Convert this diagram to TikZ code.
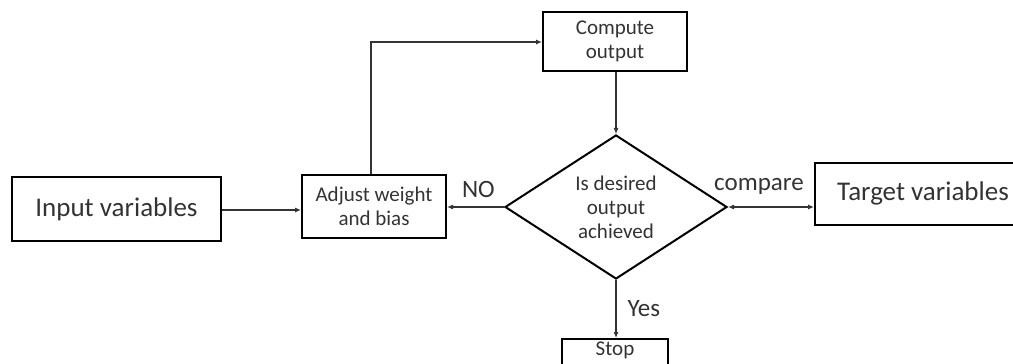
\documentclass[tikz,border=0pt]{standalone}
\usepackage{fontspec}
\setmainfont{Carlito}
\usetikzlibrary{shapes.geometric,arrows.meta}
\definecolor{txt}{HTML}{333333}
\tikzset{
  box/.style={draw=black, line width=2pt, rectangle, inner sep=0pt, text=txt, align=center},
  dia/.style={draw=black, line width=2pt, diamond, inner sep=0pt, text=txt, align=center},
  conn/.style={draw=black!80, line width=1.1pt, -{Latex[length=6pt,width=5pt]}},
  big/.style={font=\fontsize{27}{30}\selectfont},
  small/.style={font=\fontsize{21}{24}\selectfont},
  lbl/.style={text=txt, font=\fontsize{25}{28}\selectfont, inner sep=1pt}
}
\begin{document}
\begin{tikzpicture}[x=1pt,y=-1pt]
\useasboundingbox (0,0) rectangle (1013,364);
\node[box, big, minimum width=209pt, minimum height=64pt] (in) at (116.5,209) {Input variables};
\node[box, small, minimum width=144pt, minimum height=63pt] (adj) at (374,206.5) {Adjust weight\\and bias};
\node[box, small, minimum width=144pt, minimum height=59pt] (comp) at (615,41.5) {Compute\\output};
\node[dia, small, minimum width=222pt, minimum height=136pt] (d) at (616,207) {Is desired\\output\\achieved};
\node[box, big, minimum width=216pt, minimum height=62pt] (tgt) at (923,193.5) {Target variables};
\node[box, small, minimum width=106pt, anchor=north, inner ysep=3pt, text depth=40pt] (stop) at (615,338) {Stop};
\coordinate (c1) at (371,42);
\draw[conn] (in.east |- 0,210) -- (adj.west |- 0,210);
\draw[conn] (adj.north -| c1) -- (c1) -- (comp.west |- c1);
\draw[conn] (comp.south -| d.north) -- (d.north);
\draw[conn] (d.west) -- node[lbl, above=8pt, pos=0.45] {NO} (adj.east |- d.west);
\draw[conn, {Latex[length=6pt,width=5pt]}-{Latex[length=6pt,width=5pt]}] (d.east) -- node[lbl, above=11pt, pos=0.36] {compare} (tgt.west |- d.east);
\draw[conn] (d.south) -- node[lbl, right=10pt] {Yes} (stop.north -| d.south);
\end{tikzpicture}
\end{document}
